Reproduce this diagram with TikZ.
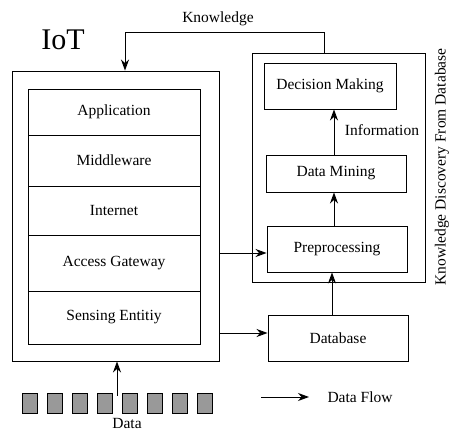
\documentclass[tikz,border=0pt]{standalone}
\usepackage{fontspec}
\setmainfont{Liberation Serif}
\usepackage{tikz}
\usetikzlibrary{arrows.meta}

\begin{document}
\begin{tikzpicture}[x=1pt,y=-1pt,font=\fontsize{15.5}{18}\selectfont,
  box/.style={draw, rectangle, line width=0.9pt, inner sep=0pt},
  layer/.style={box, minimum width=172pt},
  flow/.style={-{Stealth[length=11pt,width=8pt,inset=3.5pt]}, line width=0.9pt},
  datasq/.style={draw, rectangle, line width=0.9pt, fill=gray!80, minimum width=15pt, minimum height=20pt, inner sep=0pt}]
\useasboundingbox (0,0) rectangle (451,433);
% IoT side
\node[box, minimum width=207pt, minimum height=290pt] (iot) at (115.5,216) {};
\node[font=\fontsize{30}{34}\selectfont] (iotl) at (63,40) {IoT};
\node[layer, minimum height=46pt] (app) at (114,112) {Application};
\node[layer, minimum height=51pt] (mid) at (114,160.5) {Middleware};
\node[layer, minimum height=49pt] (net) at (114,210.5) {Internet};
\node[layer, minimum height=56pt] (agw) at (114,263) {Access Gateway};
\node[layer, minimum height=53pt] (sen) at (114,317.5) {Sensing Entitiy};
% KDD side
\node[box, minimum width=173pt, minimum height=229pt] (kdd) at (338.5,167.5) {};
\node[box, minimum width=132pt, minimum height=46pt] (dec) at (330,86) {Decision Making};
\node[box, minimum width=140pt, minimum height=37pt] (dm) at (336,173.5) {Data Mining};
\node[box, minimum width=140pt, minimum height=46pt] (pre) at (337,249) {Preprocessing};
\node[box, minimum width=140pt, minimum height=46pt] (db) at (338,338) {Database};
\node[rotate=90] (kddl) at (442,167) {Knowledge Discovery From Database};
\node (info) at (382,130) {Information};
% data
\foreach \i in {0,...,7}
  \node[datasq] (d\i) at (29.5+25.1*\i,403) {};
\node[anchor=base, inner sep=0pt] (datal) at (127,429) {Data};
\coordinate (din) at (117,396);
\draw[flow] (din) -- (iot.south -| din);
% knowledge feedback
\coordinate (kr) at (324,32);
\coordinate (kl) at (125,32);
\node (know) at (218,19) {Knowledge};
\draw[flow] (kdd.north -| kr) -- (kr) -- (kl) -- (iot.north -| kl);
% flows
\draw[flow] (iot.east |- 0,253) -- (pre.west |- 0,253);
\draw[flow] (iot.east |- 0,333) -- (db.west |- 0,333);
\draw[flow] ([xshift=-6pt]db.north) -- ([xshift=-6pt]db.north |- pre.south);
\draw[flow] ([xshift=-3pt]pre.north) -- ([xshift=-3pt]pre.north |- dm.south);
\draw[flow] ([xshift=-2pt]dm.north) -- ([xshift=-2pt]dm.north |- dec.south);
% legend
\coordinate (dfs) at (261,397);
\coordinate (dfe) at (309,397);
\node[anchor=west] (dfl) at (324,397) {Data Flow};
\draw[flow] (dfs) -- (dfe);
\end{tikzpicture}
\end{document}
